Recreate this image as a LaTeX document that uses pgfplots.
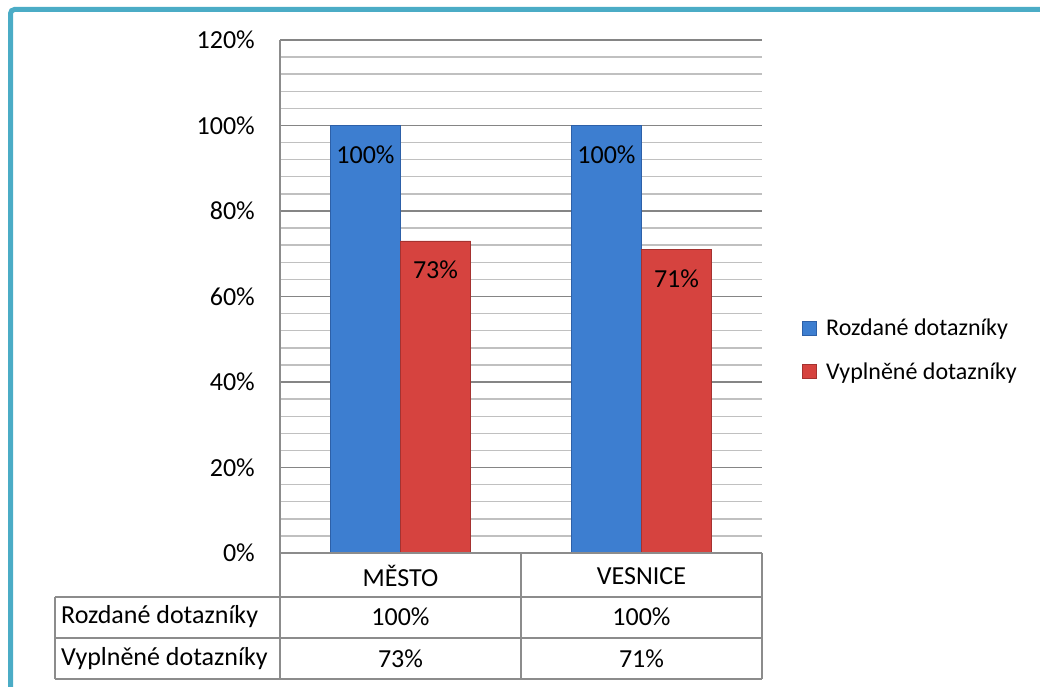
\documentclass[border=0pt]{standalone}
\usepackage{fontspec}
\setmainfont{Carlito}
\usepackage{pgfplots}
\usepackage{pgfplotstable}
\pgfplotsset{compat=1.18}

\definecolor{frameteal}{HTML}{4BACC6}
\definecolor{barblue}{HTML}{3D7ED0}
\definecolor{barbluedark}{HTML}{2D60A8}
\definecolor{barred}{HTML}{D6433F}
\definecolor{barreddark}{HTML}{A53230}
\definecolor{gridmajor}{HTML}{858585}
\definecolor{gridminor}{HTML}{C0C0C0}
\definecolor{tableline}{HTML}{8C8C8C}

% share of questionnaires, in percent
\pgfplotstableread{
x   cat      rozdane vyplnene
0.5 MĚSTO    100     73
1.5 VESNICE  100     71
}\surveydata

\newcommand{\cellval}[2]{\pgfplotstablegetelem{#1}{#2}\of\surveydata\pgfplotsretval\%}

\begin{document}
\begin{tikzpicture}[x=1pt,y=1pt]
\useasboundingbox (0,0) rectangle (1040,686);

% outer frame
\draw[frameteal, line width=5pt, rounded corners=4pt] (10.5,-20) -- (10.5,676.5) -- (1060,676.5);

\begin{axis}[
  at={(280pt,133pt)}, anchor=south west,
  scale only axis, width=482pt, height=513pt,
  xmin=0, xmax=2, ymin=0, ymax=120,
  ybar=0pt, bar width=70pt,
  axis x line=bottom, axis y line=left,
  axis line style={tableline, line width=1.5pt, -},
  major tick length=0pt, minor tick length=0pt,
  xtick={0.5,1.5},
  xticklabels={MĚSTO,VESNICE},
  xticklabel style={anchor=center, yshift=-23pt},
  ytick={0,20,...,120},
  yticklabels={0\%,20\%,40\%,60\%,80\%,100\%,120\%},
  yticklabel style={anchor=east, inner sep=0pt, xshift=-25pt},
  minor y tick num=4,
  ymajorgrids, yminorgrids,
  major grid style={gridmajor, line width=1.4pt},
  minor grid style={gridminor, line width=1.4pt},
  tick label style={font=\fontsize{26}{31}\selectfont, text=black},
  nodes near coords={\pgfmathprintnumber[assume math mode=true]{\pgfplotspointmeta}\%},
  every node near coord/.append style={anchor=center, yshift=-29pt,
    font=\fontsize{26}{31}\selectfont, text=black},
  legend style={at={(1.082,0.396)}, anchor=west, draw=none, fill=none,
    font=\fontsize{24}{29}\selectfont, row sep=21pt, inner sep=0pt},
  legend cell align=left,
  legend image code/.code={\path[#1, line width=0.5pt] (0pt,-7pt) rectangle (14pt,7pt);},
  /tikz/every odd column/.append style={column sep=8pt},
]
\addplot[draw=barbluedark, line width=0.8pt, fill=barblue]
  table[x=x, y=rozdane] {\surveydata};
\addplot[draw=barreddark, line width=0.8pt, fill=barred]
  table[x=x, y=vyplnene] {\surveydata};
\legend{Rozdané dotazníky, Vyplněné dotazníky}
\end{axis}

% data table under the plot
\begin{scope}[tableline, line width=1.5pt]
  \draw (280,133) -- (762,133);
  \draw (55,89) -- (762,89);
  \draw (55,48) -- (762,48);
  \draw (55,7) -- (762,7);
  \draw (55,7) -- (55,89);
  \draw (280,7) -- (280,133);
  \draw (521,7) -- (521,133);
  \draw (762,7) -- (762,133);
\end{scope}
\begin{scope}[font=\fontsize{26}{31}\selectfont]
  \node[anchor=west, inner sep=0pt] at (61,69) {Rozdané dotazníky};
  \node[anchor=west, inner sep=0pt] at (61,27) {Vyplněné dotazníky};
  \node at (400.5,69) {\cellval{0}{rozdane}};
  \node at (641.5,69) {\cellval{1}{rozdane}};
  \node at (400.5,27) {\cellval{0}{vyplnene}};
  \node at (641.5,27) {\cellval{1}{vyplnene}};
\end{scope}
\end{tikzpicture}
\end{document}
